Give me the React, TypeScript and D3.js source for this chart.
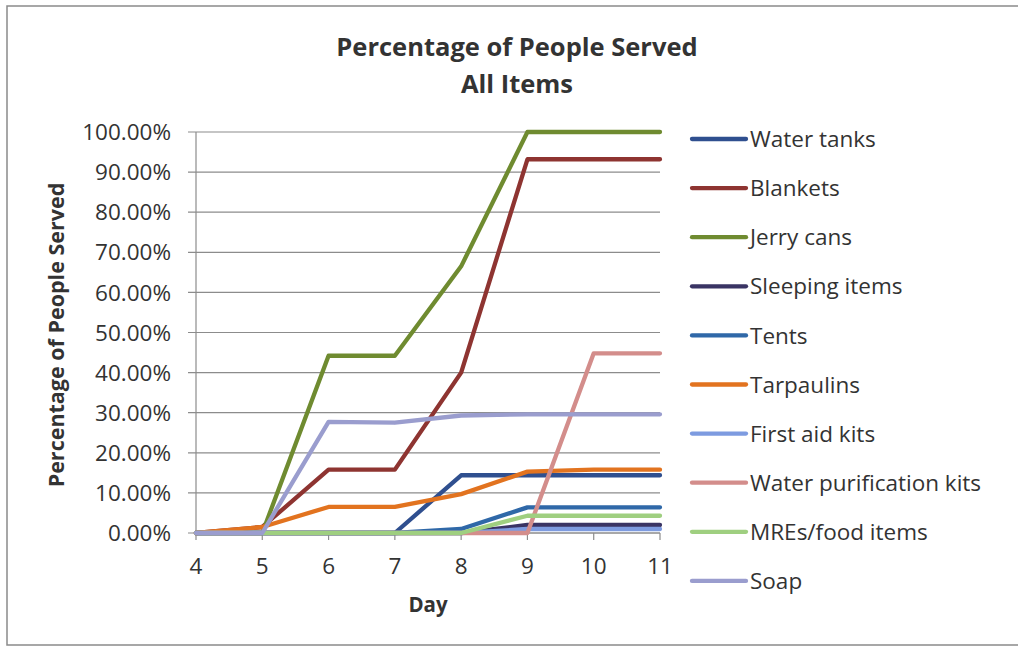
import React from "react";
import * as d3 from "d3";

const days = [4, 5, 6, 7, 8, 9, 10, 11];
const seriesNames = [
  "Water tanks",
  "Blankets",
  "Jerry cans",
  "Sleeping items",
  "Tents",
  "Tarpaulins",
  "First aid kits",
  "Water purification kits",
  "MREs/food items",
  "Soap",
];
const waterTanks = [0, 0, 0, 0, 14.4, 14.4, 14.4, 14.4];
const blankets = [0, 1.5, 15.8, 15.8, 40, 93.2, 93.2, 93.2];
const jerryCans = [0, 0, 44.2, 44.2, 66.5, 100, 100, 100];
const sleepingItems = [0, 0, 0, 0, 0, 2, 2, 2];
const tents = [0, 0, 0, 0, 1, 6.4, 6.4, 6.4];
const tarpaulins = [0, 1.5, 6.5, 6.5, 9.7, 15.3, 15.8, 15.8];
const firstAidKits = [0, 0, 0, 0, 0, 1, 1, 1];
const waterPurification = [0, 0, 0, 0, 0, 0, 44.8, 44.8];
const mres = [0, 0, 0, 0, 0, 4.3, 4.3, 4.3];
const soap = [0, 0, 27.7, 27.5, 29.3, 29.6, 29.6, 29.6];
const seriesValues = [
  waterTanks,
  blankets,
  jerryCans,
  sleepingItems,
  tents,
  tarpaulins,
  firstAidKits,
  waterPurification,
  mres,
  soap,
];
const seriesColors = [
  "#2f4f8f",
  "#8e3431",
  "#6f8b30",
  "#3a3464",
  "#2f68a8",
  "#e2731f",
  "#7d9be0",
  "#d38d8b",
  "#9fcf80",
  "#9a9dce",
];
const yTicks = [0, 10, 20, 30, 40, 50, 60, 70, 80, 90, 100];

const FONT = "'Open Sans', 'DejaVu Sans', sans-serif";

export default function App() {
  const left = 196;
  const right = 660;
  const top = 132;
  const bottom = 533;
  const x = d3.scaleLinear().domain([4, 11]).range([left, right]);
  const y = d3.scaleLinear().domain([0, 100]).range([bottom, top]);
  const line = d3
    .line<number>()
    .x((_, i) => x(days[i]))
    .y((v) => y(v));

  const legendX = 692;
  const legendY0 = 139;
  const legendStep = 49.1;

  return (
    <svg
      width={1018}
      height={647}
      style={{ position: "absolute", left: 0, top: 0, background: "#fff" }}
      fontFamily={FONT}
    >
      <rect x={0} y={0} width={1018} height={647} fill="#fff" />
      <rect
        x={7}
        y={6}
        width={1030}
        height={639}
        fill="none"
        stroke="#8a8a8a"
        strokeWidth={1.5}
      />
      {/* Title */}
      <text
        x={517}
        y={56}
        textAnchor="middle"
        fontSize={25.5}
        fontWeight="bold"
        fill="#333"
      >
        Percentage of People Served
      </text>
      <text
        x={517}
        y={93}
        textAnchor="middle"
        fontSize={25.5}
        fontWeight="bold"
        fill="#333"
      >
        All Items
      </text>
      {/* Gridlines and y ticks */}
      {yTicks.map((t) => (
        <g key={t}>
          <line
            x1={left - 8}
            x2={right}
            y1={y(t)}
            y2={y(t)}
            stroke="#8c8c8c"
            strokeWidth={1.2}
          />
          <text
            x={171}
            y={y(t)}
            dy="0.36em"
            textAnchor="end"
            fontSize={22.5}
            fill="#333"
          >
            {t.toFixed(2) + "%"}
          </text>
        </g>
      ))}
      {/* Axes */}
      <line x1={left} x2={left} y1={top} y2={bottom} stroke="#8c8c8c" strokeWidth={1.2} />
      <line x1={left} x2={right} y1={bottom} y2={bottom} stroke="#8c8c8c" strokeWidth={1.2} />
      {days.map((d) => (
        <g key={d}>
          <line
            x1={x(d)}
            x2={x(d)}
            y1={bottom}
            y2={bottom + 7}
            stroke="#8c8c8c"
            strokeWidth={1.2}
          />
          <text
            x={x(d)}
            y={566}
            dy="0.36em"
            textAnchor="middle"
            fontSize={22.5}
            fill="#333"
          >
            {d}
          </text>
        </g>
      ))}
      {/* Axis titles */}
      <text
        x={428}
        y={605}
        dy="0.36em"
        textAnchor="middle"
        fontSize={20.5}
        fontWeight="bold"
        fill="#333"
      >
        Day
      </text>
      <text
        transform={`translate(56,335) rotate(-90)`}
        textAnchor="middle"
        dy="0.36em"
        fontSize={21.5}
        fontWeight="bold"
        fill="#333"
      >
        Percentage of People Served
      </text>
      {/* Series lines */}
      {seriesValues.map((vals, i) => (
        <path
          key={seriesNames[i]}
          d={line(vals) || ""}
          fill="none"
          stroke={seriesColors[i]}
          strokeWidth={4.3}
          strokeLinejoin="round"
          strokeLinecap="round"
        />
      ))}
      {/* Legend */}
      {seriesNames.map((name, i) => {
        const ly = legendY0 + i * legendStep;
        return (
          <g key={name}>
            <line
              x1={legendX}
              x2={legendX + 54}
              y1={ly}
              y2={ly}
              stroke={seriesColors[i]}
              strokeWidth={4.3}
              strokeLinecap="round"
            />
            <text
              x={legendX + 58}
              y={ly}
              dy="0.36em"
              fontSize={22.5}
              fill="#333"
            >
              {name}
            </text>
          </g>
        );
      })}
    </svg>
  );
}
